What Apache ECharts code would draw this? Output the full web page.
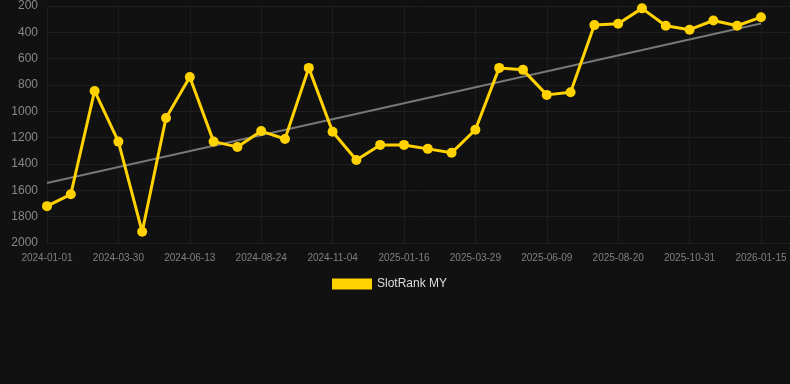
<!DOCTYPE html>
<html>
<head>
<meta charset="utf-8">
<script src="https://cdn.jsdelivr.net/npm/echarts@6/dist/echarts.min.js"></script>
<style>
html,body{margin:0;padding:0;background:#111111;}
#chart{width:790px;height:384px;}
</style>
</head>
<body>
<div id="chart"></div>
<script>
var categories = [
  '2024-01-01','2024-01-30','2024-02-28','2024-03-30','2024-04-24','2024-05-19','2024-06-13',
  '2024-07-07','2024-07-31','2024-08-24','2024-09-17','2024-10-11','2024-11-04',
  '2024-11-28','2024-12-23','2025-01-16','2025-02-09','2025-03-05','2025-03-29',
  '2025-04-22','2025-05-16','2025-06-09','2025-07-03','2025-07-27','2025-08-20',
  '2025-09-13','2025-10-07','2025-10-31','2025-11-25','2025-12-20','2026-01-15'
];
var rankValues = [
  1720, 1630, 845, 1230, 1915, 1050, 740, 1230, 1270, 1150, 1210, 670, 1155,
  1370, 1255, 1255, 1285, 1315, 1140, 670, 685, 875, 855, 345, 335, 218,
  350, 380, 310, 350, 285
];
var seriesName = 'SlotRank MY';

// linear trend (least squares) from the data
var n = rankValues.length, sx = 0, sy = 0, sxx = 0, sxy = 0;
rankValues.forEach(function (v, i) { sx += i; sy += v; sxx += i * i; sxy += i * v; });
var slope = (n * sxy - sx * sy) / (n * sxx - sx * sx);
var intercept = (sy - slope * sx) / n;
var trendData = [[0, intercept], [n - 1, intercept + slope * (n - 1)]];

var chart = echarts.init(document.getElementById('chart'));
chart.setOption({
  backgroundColor: '#111111',
  animation: false,
  grid: { left: 47, right: 0, top: 6, bottom: 141 },
  legend: {
    data: [seriesName],
    top: 273,
    left: 327,
    icon: 'rect',
    itemWidth: 40,
    itemHeight: 11,
    itemGap: 10,
    textStyle: { color: '#dddddd', fontSize: 12 }
  },
  xAxis: {
    type: 'value',
    min: 0,
    max: 31.22,
    interval: 3,
    axisLine: { show: false },
    axisTick: { show: false },
    splitLine: { show: true, lineStyle: { color: '#1d1d1d', width: 1 } },
    axisLabel: {
      color: '#808080',
      fontSize: 10,
      margin: 10,
      showMaxLabel: false,
      formatter: function (v) {
        return (Number.isInteger(v) && v % 3 === 0 && categories[v]) ? categories[v] : '';
      }
    }
  },
  yAxis: {
    type: 'value',
    inverse: true,
    min: 200,
    max: 2000,
    interval: 200,
    axisLine: { show: false },
    axisTick: { show: false },
    splitLine: { lineStyle: { color: '#1f1f1f', width: 1 } },
    axisLabel: { color: '#888888', fontSize: 12, margin: 9, formatter: function (v) { return String(v); } }
  },
  series: [
    {
      name: 'trend',
      type: 'line',
      data: trendData,
      showSymbol: false,
      symbol: 'none',
      lineStyle: { color: '#777777', width: 2 },
      silent: true,
      z: 1
    },
    {
      name: seriesName,
      type: 'line',
      data: rankValues.map(function (v, i) { return [i, v]; }),
      symbol: 'circle',
      symbolSize: 10,
      itemStyle: { color: '#FFD200' },
      lineStyle: { color: '#FFD200', width: 3 },
      z: 2
    }
  ]
});
</script>
</body>
</html>
